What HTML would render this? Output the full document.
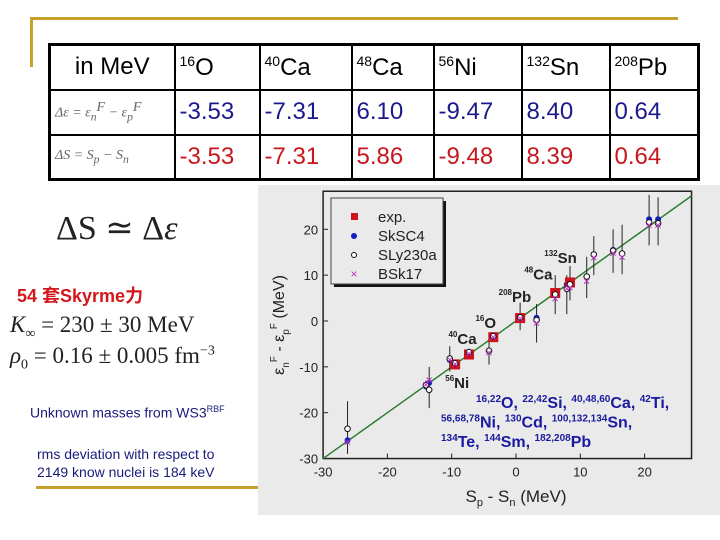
<!DOCTYPE html>
<html><head><meta charset="utf-8"><style>
body{margin:0;width:720px;height:540px;background:#fff;position:relative;overflow:hidden;font-family:"Liberation Sans","Noto Sans CJK SC",sans-serif}
.abs{position:absolute}
table{position:absolute;left:48px;top:43px;border-collapse:collapse;table-layout:fixed;width:650px;height:137px;border:3px solid #000}
td{border:2px solid #000;font-size:24px;padding:0 4px;white-space:nowrap;overflow:hidden}
td sup{font-size:14px}
.b{color:#1a1a8c}.r{color:#c8161d}
.f{font-family:"Liberation Serif",serif;font-style:italic;font-size:14px;color:#666}
</style></head><body>
<div class="abs" style="left:30px;top:17px;width:648px;height:3px;background:#c4a02c"></div>
<div class="abs" style="left:30px;top:17px;width:3px;height:50px;background:#c4a02c"></div>
<div class="abs" style="left:36px;top:486px;width:222px;height:3px;background:#c4a02c"></div>
<table>
<colgroup><col style="width:125px"><col style="width:85px"><col style="width:92px"><col style="width:82px"><col style="width:88px"><col style="width:88px"><col style="width:89px"></colgroup>
<tr style="height:45px"><td style="text-align:center">in MeV</td><td><sup>16</sup>O</td><td><sup>40</sup>Ca</td><td><sup>48</sup>Ca</td><td><sup>56</sup>Ni</td><td><sup>132</sup>Sn</td><td><sup>208</sup>Pb</td></tr>
<tr style="height:45px"><td class="f">Δε = ε<sub>n</sub><sup>F</sup> − ε<sub>p</sub><sup>F</sup></td><td class="b">-3.53</td><td class="b">-7.31</td><td class="b">6.10</td><td class="b">-9.47</td><td class="b">8.40</td><td class="b">0.64</td></tr>
<tr style="height:45px"><td class="f">ΔS = S<sub>p</sub> − S<sub>n</sub></td><td class="r">-3.53</td><td class="r">-7.31</td><td class="r">5.86</td><td class="r">-9.48</td><td class="r">8.39</td><td class="r">0.64</td></tr>
</table>
<div class="abs" style="left:56px;top:208px;font-family:'Liberation Serif',serif;font-size:34px;color:#222">ΔS ≃ Δ<i>ε</i></div>
<div class="abs" style="left:17px;top:282px;font-size:18px;font-weight:bold;color:#d4161d">54 套Skyrme力</div>
<div class="abs" style="left:10px;top:312px;font-family:'Liberation Serif',serif;font-size:23px;color:#222"><i>K</i><sub style="font-size:14px">∞</sub> = 230 ± 30 MeV</div>
<div class="abs" style="left:10px;top:343px;font-family:'Liberation Serif',serif;font-size:23px;color:#222"><i>ρ</i><sub style="font-size:14px">0</sub> = 0.16 ± 0.005 fm<sup style="font-size:14px">−3</sup></div>
<div class="abs" style="left:30px;top:404px;font-size:14px;color:#1a1a7a">Unknown masses from WS3<sup style="font-size:9px">RBF</sup></div>
<div class="abs" style="left:37px;top:445px;font-size:14px;color:#1a1a7a;line-height:18px">rms deviation with respect to<br>2149 know nuclei is 184 keV</div>
<svg class="abs" style="left:0;top:0" width="720" height="540" id="c">
<rect x="258" y="185" width="462" height="330" fill="#eaeaea"/>
</svg>
<script>
const theoryX=[-26.2,-14,-13.5,-10.3,-7.31,-4.2,-3.53,0.64,3.2,6.1,7.9,8.4,11,12.1,15.1,16.5,20.7,22.1,-9.47];
const skY=[-26,-14.3,-13.5,-8.5,-7.0,-6.5,-3.3,0.8,0.7,5.5,8,8.2,9.7,14.5,15.5,14.7,22.2,22.2,-9.3];
const slyY=[-23.5,-14,-15,-8.2,-6.8,-6.5,-3.3,0.8,0.2,5.8,7,8,9.7,14.5,15.3,14.7,21.5,21.3,-9.2];
const bskY=[-26.5,-14,-13,-8.5,-7.2,-7,-3.6,0.4,-0.5,4.8,7,7.2,8.6,13.7,14.7,13.8,20.8,20.8,-9.5];
const errLo=[-29,-15,-19,-11,-8,-9.5,-4.5,-2,-4.7,1.5,1.5,4.5,5,10,10.5,10.2,16.5,16.5,-10.5];
const errHi=[-17.5,-13,-10,-5.5,-6,-3,-2.5,4,3.7,10,10,12,14,18.5,20,21,27.5,27,-8.5];
const expX=[-3.53,-7.31,6.10,-9.47,8.40,0.64];
const expY=[-3.53,-7.31,6.10,-9.47,8.40,0.64];
const xTicks=[-30,-20,-10,0,10,20];
const yTicks=[-30,-20,-10,0,10,20];
const X=v=>516+v*6.43, Y=v=>321-v*4.585;
const s=document.getElementById('c'),NS='http://www.w3.org/2000/svg';
function mk(t,a,txt){const e=document.createElementNS(NS,t);for(const k in a)e.setAttribute(k,a[k]);if(txt!=null)e.textContent=txt;s.appendChild(e);return e;}
let e;
e=mk('rect',{x:X(-30),y:Y(28.3),width:X(27.3)-X(-30),height:Y(-30)-Y(28.3),fill:'none',stroke:'#222','stroke-width':1.5});


xTicks.forEach(t=>{e=mk('line',{x1:X(t),x2:X(t),y1:Y(-30),y2:Y(-30)-5,stroke:'#222'});


e=mk('text',{x:X(t),y:Y(-30)+18,'text-anchor':'middle','font-size':13,fill:'#222'},t);

});
yTicks.forEach(t=>{e=mk('line',{x1:X(-30),x2:X(-30)+5,y1:Y(t),y2:Y(t),stroke:'#222'});


e=mk('text',{x:X(-30)-5,y:Y(t)+5,'text-anchor':'end','font-size':13,fill:'#222'},t);

});
e=mk('line',{x1:X(-30),y1:Y(-30),x2:X(27.3),y2:Y(27.3),stroke:'#2e7d32','stroke-width':1.5});


theoryX.forEach((x,i)=>{
e=mk('line',{x1:X(x),x2:X(x),y1:Y(errLo[i]),y2:Y(errHi[i]),stroke:'#222'});


e=mk('circle',{cx:X(x),cy:Y(skY[i]),r:3,fill:'#1020c0'});


});
expX.forEach((x,i)=>{e=mk('rect',{x:X(x)-5,y:Y(expY[i])-5,width:10,height:10,fill:'#d0101a'});

});
theoryX.forEach((x,i)=>{
e=mk('circle',{cx:X(x),cy:Y(slyY[i]),r:2.8,fill:'#fff',stroke:'#111'});


e=mk('text',{x:X(x),y:Y(bskY[i])+4,'text-anchor':'middle','font-size':13,fill:'#c030c0'},'×');

});
const labs=[['16','O',-6.3,-1.5],['40','Ca',-10.5,-5],['48','Ca',1.3,9],['56','Ni',-11,-14.6],['132','Sn',4.4,12.7],['208','Pb',-2.7,4.1]];
labs.forEach(l=>{e=mk('text',{x:X(l[2]),y:Y(l[3]),'font-size':15,'font-weight':'bold',fill:'#222'});
e.innerHTML='<tspan font-size="8" dy="-7">'+l[0]+'</tspan><tspan dy="7">'+l[1]+'</tspan>';

});
// legend
e=mk('rect',{x:334,y:201,width:112,height:86,fill:'#111'});


e=mk('rect',{x:331,y:198,width:112,height:86,fill:'#eaeaea',stroke:'#444'});


const leg=[['exp.','sq'],['SkSC4','dot'],['SLy230a','o'],['BSk17','x']];
leg.forEach((l,i)=>{const y=217+i*19;
if(l[1]=='sq')mk('rect',{x:351,y:y-4,width:7,height:7,fill:'#d0101a'});
if(l[1]=='dot')mk('circle',{cx:354,cy:y,r:3,fill:'#1020c0'});
if(l[1]=='o')mk('circle',{cx:354,cy:y,r:2.5,fill:'#fff',stroke:'#111'});
if(l[1]=='x')mk('text',{x:354,y:y+4,'text-anchor':'middle','font-size':12,fill:'#c030c0'},'×');
e=mk('text',{x:378,y:y+5,'font-size':15,fill:'#222'},l[0]);

});
e=mk('text',{x:516,y:502,'text-anchor':'middle','font-size':17,fill:'#222'});
e.innerHTML='S<tspan font-size="11" dy="4">p</tspan><tspan dy="-4"> - S</tspan><tspan font-size="11" dy="4">n</tspan><tspan dy="-4"> (MeV)</tspan>';


e=mk('text',{x:0,y:0,'text-anchor':'middle','font-size':16,fill:'#222',transform:'translate(284,325) rotate(-90)'});
e.innerHTML='ε<tspan font-size="10" dy="5">n</tspan><tspan font-size="10" dy="-12">F</tspan><tspan dy="7"> - ε</tspan><tspan font-size="10" dy="5">p</tspan><tspan font-size="10" dy="-12">F</tspan><tspan dy="7"> (MeV)</tspan>';


const nl=[['16,22','O, ','22,42','Si, ','40,48,60','Ca, ','42','Ti,'],['56,68,78','Ni, ','130','Cd, ','100,132,134','Sn,'],['134','Te, ','144','Sm, ','182,208','Pb']];
nl.forEach((row,i)=>{let h='';for(let j=0;j<row.length;j+=2)h+='<tspan font-size="10" dy="-6">'+row[j]+'</tspan><tspan dy="6">'+row[j+1]+'</tspan>';
e=mk('text',{x:i==0?476:441,y:408+i*19.5,'font-size':16,'font-weight':'bold',fill:'#1a1aa0'});
e.innerHTML=h;

});
</script>
</body></html>
